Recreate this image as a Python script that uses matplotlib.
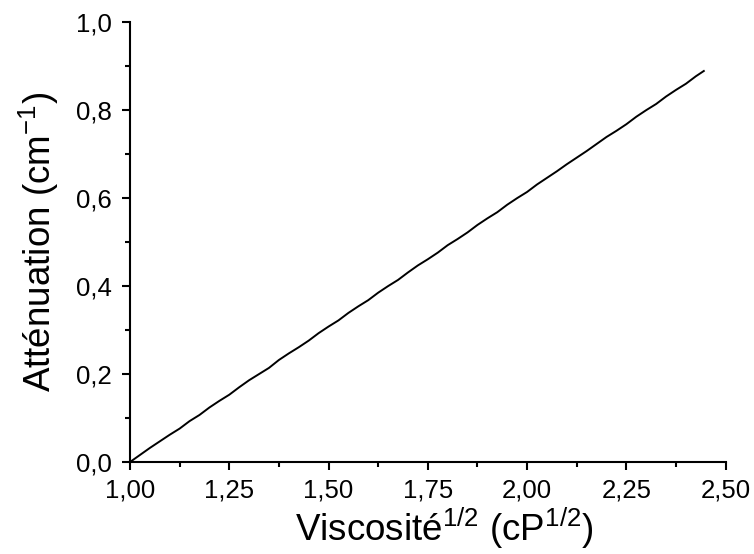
import matplotlib
matplotlib.use('Agg')
import matplotlib.pyplot as plt
from matplotlib.ticker import FixedLocator

plt.rcParams['font.family'] = ['Liberation Sans', 'DejaVu Sans']
plt.rcParams['mathtext.default'] = 'regular'

# sqrt(viscosity) vs attenuation
visc = [1.000, 1.025, 1.050, 1.075, 1.100, 1.125, 1.150, 1.175, 1.200, 1.225,
        1.250, 1.275, 1.300, 1.325, 1.350, 1.375, 1.400, 1.425, 1.450, 1.475,
        1.500, 1.525, 1.550, 1.575, 1.600, 1.625, 1.650, 1.675, 1.700, 1.725,
        1.750, 1.775, 1.800, 1.825, 1.850, 1.875, 1.900, 1.925, 1.950, 1.975,
        2.000, 2.025, 2.050, 2.075, 2.100, 2.125, 2.150, 2.175, 2.200, 2.225,
        2.250, 2.275, 2.300, 2.325, 2.350, 2.375, 2.400, 2.425, 2.445]
atten = [0.000, 0.016, 0.032, 0.047, 0.062, 0.076, 0.093, 0.107, 0.124, 0.139,
         0.153, 0.170, 0.186, 0.200, 0.214, 0.232, 0.247, 0.261, 0.276, 0.293,
         0.308, 0.322, 0.339, 0.354, 0.368, 0.385, 0.400, 0.414, 0.431, 0.447,
         0.461, 0.476, 0.493, 0.507, 0.522, 0.539, 0.554, 0.568, 0.585, 0.600,
         0.614, 0.631, 0.646, 0.661, 0.677, 0.692, 0.707, 0.723, 0.739, 0.753,
         0.768, 0.785, 0.800, 0.814, 0.831, 0.846, 0.860, 0.877, 0.889]

xticks = [1.00, 1.25, 1.50, 1.75, 2.00, 2.25, 2.50]
xlabels = ['1,00', '1,25', '1,50', '1,75', '2,00', '2,25', '2,50']
yticks = [0.0, 0.2, 0.4, 0.6, 0.8, 1.0]
ylabels = ['0,0', '0,2', '0,4', '0,6', '0,8', '1,0']

fig = plt.figure(figsize=(7.54, 5.54), dpi=100)
ax = fig.add_axes([0.1724, 0.166, 0.790, 0.794])

ax.plot(visc, atten, color='black', lw=1.4)

ax.set_xlim(1.0, 2.5)
ax.set_ylim(0.0, 1.0)
ax.set_xticks(xticks)
ax.set_xticklabels(xlabels)
ax.set_yticks(yticks)
ax.set_yticklabels(ylabels)
ax.xaxis.set_minor_locator(FixedLocator([1.125, 1.375, 1.625, 1.875, 2.125, 2.375]))
ax.yaxis.set_minor_locator(FixedLocator([0.1, 0.3, 0.5, 0.7, 0.9]))

for s in ['top', 'right']:
    ax.spines[s].set_visible(False)
for s in ['left', 'bottom']:
    ax.spines[s].set_linewidth(1.5)

ax.tick_params(which='major', direction='out', length=5.8, width=1.5,
               labelsize=18.5)
ax.tick_params(axis='x', which='major', pad=6)
ax.tick_params(axis='y', which='major', pad=7)
ax.tick_params(which='minor', direction='out', length=3.3, width=1.5)

ax.set_xlabel('Viscosité$^{1/2}$ (cP$^{1/2}$)', fontsize=26.5)
ax.xaxis.set_label_coords(0.527, -0.1)
ax.set_ylabel('Atténuation (cm$^{-1}$)', fontsize=26.5, labelpad=11)

plt.savefig('out.png', dpi=100)
